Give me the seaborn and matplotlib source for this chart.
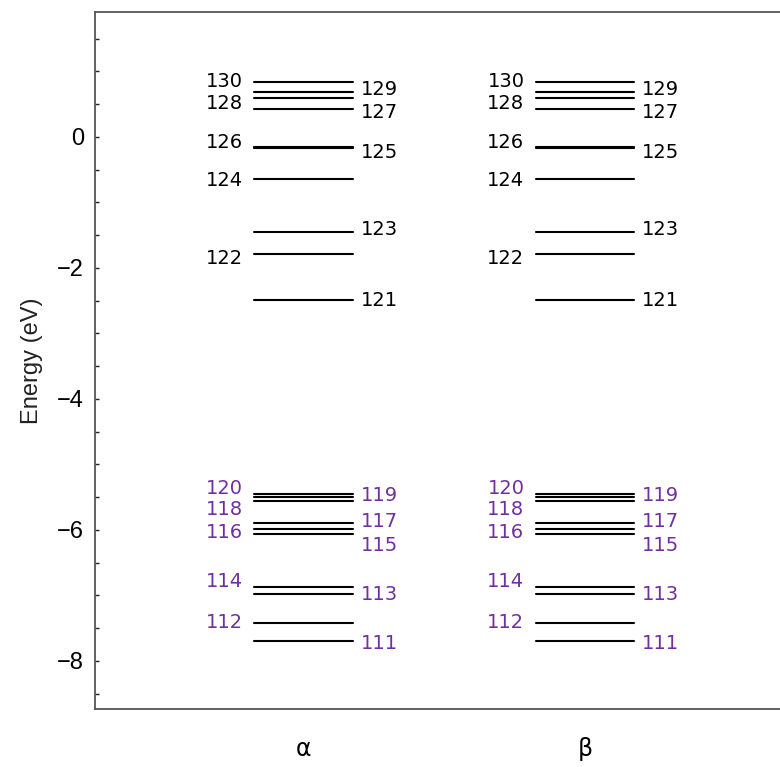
import numpy as np
import pandas as pd
import matplotlib
matplotlib.use("Agg")
import matplotlib.pyplot as plt
import seaborn as sns

# Orbital-Nummern und Energien (eV)
levels = list(range(111, 131))
energy_alpha = [-7.70, -7.42, -6.98, -6.87, -6.06, -5.99, -5.90, -5.56, -5.50, -5.45,
                -2.49, -1.79, -1.45, -0.64, -0.17, -0.15, 0.42, 0.59, 0.69, 0.84]
energy_beta = [-7.70, -7.42, -6.98, -6.87, -6.06, -5.99, -5.90, -5.56, -5.50, -5.45,
               -2.49, -1.79, -1.45, -0.64, -0.17, -0.15, 0.42, 0.59, 0.69, 0.84]
spins = ["α", "β"]

# kleine Verschiebungen der Beschriftung, damit sie sich nicht überlappen
label_shift = {111: -0.03, 112: 0.0, 113: 0.0, 114: 0.08, 115: -0.18, 116: -0.05,
               117: 0.03, 118: -0.12, 119: 0.03, 120: 0.09, 121: 0.0, 122: -0.06,
               123: 0.03, 124: -0.03, 125: -0.06, 126: 0.06, 127: -0.05, 128: -0.08,
               129: 0.03, 130: 0.0}

purple = "#7030A0"
half = 0.175

# DataFrame für die Linien (Start- und Endpunkt jeder Linie)
rows = []
for i, (spin, energies) in enumerate(zip(spins, [energy_alpha, energy_beta])):
    for lvl, e in zip(levels, energies):
        rows.append({"x": i - half, "E": e, "unit": f"{spin}{lvl}"})
        rows.append({"x": i + half, "E": e, "unit": f"{spin}{lvl}"})
df = pd.DataFrame(rows)

sns.set_style("ticks")
plt.rcParams["font.family"] = ["DejaVu Sans"]

fig = plt.figure(figsize=(7.8, 7.67), dpi=100)
ax = fig.add_axes([95 / 780, 1 - 709 / 767, 1.01 - 95 / 780, (709 - 12) / 767])

sns.lineplot(data=df, x="x", y="E", units="unit", estimator=None,
             color="black", linewidth=1.5, ax=ax, legend=False)

# Beschriftungen der Orbitale
for i, energies in enumerate([energy_alpha, energy_beta]):
    for lvl, e in zip(levels, energies):
        col = purple if lvl <= 120 else "black"
        y = e + label_shift[lvl]
        if lvl % 2 == 0:
            ax.text(i - half - 0.04, y, str(lvl), ha="right", va="center",
                    fontsize=14, color=col)
        else:
            ax.text(i + half + 0.028, y, str(lvl), ha="left", va="center",
                    fontsize=14, color=col)

ax.set_xlim(-0.74, 1.72)
ax.set_ylim(-8.733, 1.908)
ax.set_xticks([0, 1])
ax.set_xticklabels(spins, fontsize=17, color="black")
ax.tick_params(axis="x", length=0, pad=20)
ax.set_yticks([0, -2, -4, -6, -8])
ax.set_yticklabels(["0", "\u22122", "\u22124", "\u22126", "\u22128"],
                   fontsize=17, family="Liberation Sans", color="black")
ax.set_yticks(np.arange(-8.5, 2.0, 0.5), minor=True)
ax.tick_params(axis="y", which="both", direction="in", length=3, width=1,
               color="#222222", pad=8)
ax.set_xlabel("")
ax.set_ylabel("Energy (eV)", fontsize=17, family="Liberation Sans",
              color="#222222", labelpad=10)

for s in ax.spines.values():
    s.set_color("#555555")
    s.set_linewidth(1.3)
ax.spines["right"].set_visible(False)

fig.savefig("out.png", dpi=100)
